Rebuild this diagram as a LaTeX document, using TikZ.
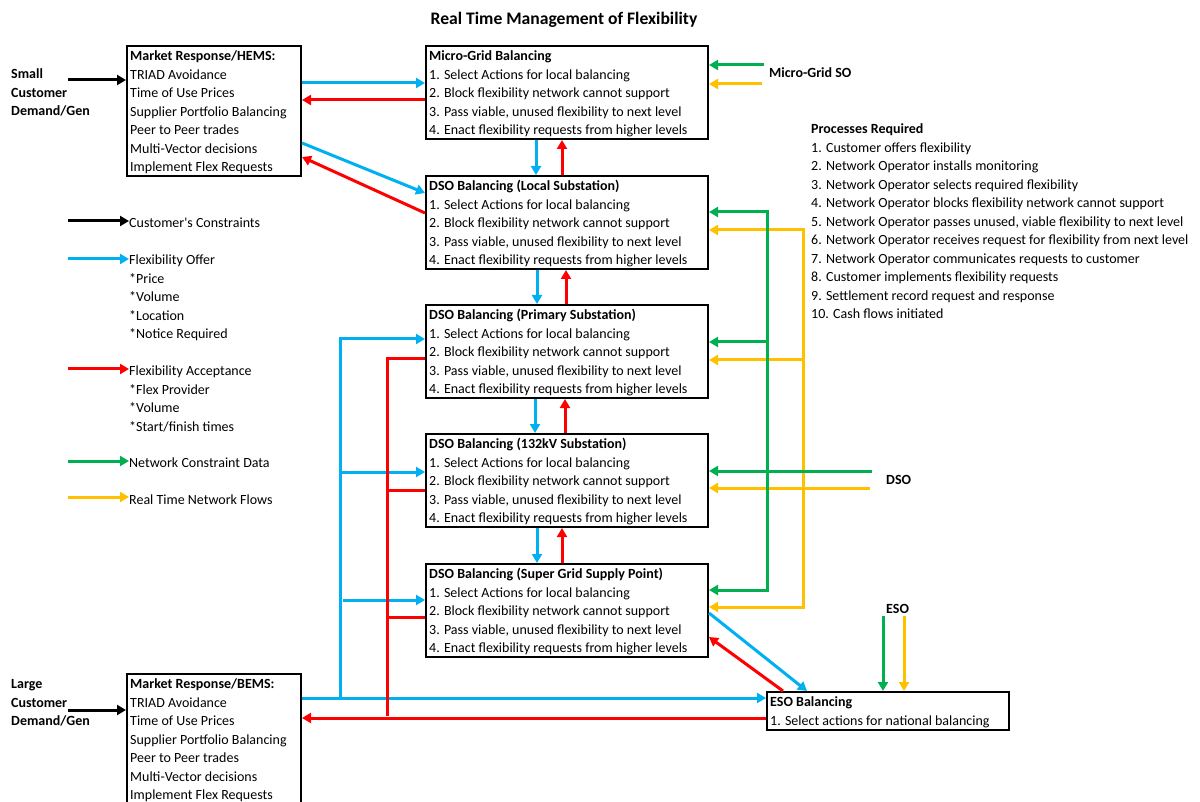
\documentclass[tikz,border=0pt]{standalone}
\usepackage{fontspec}
\setmainfont{Carlito}
\usetikzlibrary{arrows.meta}

\definecolor{flexblue}{RGB}{0,176,240}
\definecolor{flexred}{RGB}{255,0,0}
\definecolor{netgreen}{RGB}{0,176,80}
\definecolor{flowyellow}{RGB}{255,192,0}

\newcommand\diagfont{\fontsize{14}{18.5}\selectfont}
\newcommand\topstrut{\rule{0pt}{15.5pt}}

\tikzset{
  box/.style={draw=black, line width=2pt, anchor=north west, inner sep=0pt},
  txt/.style={anchor=north west, align=left, inner sep=0pt, font=\diagfont},
  lbl/.style={txt, font=\diagfont\bfseries},
  tip/.style={-{Triangle[length=9pt,width=10pt]}},
  both tips/.style={{Triangle[length=9pt,width=10pt]}-{Triangle[length=9pt,width=10pt]}},
  blk/.style={line width=3pt, black, tip},
  blu/.style={line width=3pt, flexblue},
  rd/.style={line width=3pt, flexred},
  grn/.style={line width=3pt, netgreen},
  ylw/.style={line width=3pt, flowyellow},
}

\begin{document}
\begin{tikzpicture}[x=1pt,y=-1pt]
\useasboundingbox (0,0) rectangle (1200,802);

% title
\node[font=\fontsize{17.6}{20}\selectfont\bfseries, anchor=base, inner sep=0pt] (title) at (564,25) {Real Time Management of Flexibility};

% ---------- boxes ----------
\node[box, minimum width=174pt, minimum height=130pt] (hems) at (126,45) {};
\node[txt] (hemsT) at ([xshift=4pt]hems.north west) {\topstrut\textbf{Market Response/HEMS:}\\TRIAD Avoidance\\Time of Use Prices\\Supplier Portfolio Balancing\\Peer to Peer trades\\Multi-Vector decisions\\Implement Flex Requests};

\node[box, minimum width=174pt, minimum height=131pt] (bems) at (126,673) {};
\node[txt] (bemsT) at ([xshift=4pt]bems.north west) {\topstrut\textbf{Market Response/BEMS:}\\TRIAD Avoidance\\Time of Use Prices\\Supplier Portfolio Balancing\\Peer to Peer trades\\Multi-Vector decisions\\Implement Flex Requests};

\node[box, minimum width=282pt, minimum height=93pt] (mg) at (425,45) {};
\node[txt] (mgT) at ([xshift=4pt]mg.north west) {\topstrut\textbf{Micro-Grid Balancing}\\1. Select Actions for local balancing\\2. Block flexibility network cannot support\\3. Pass viable, unused flexibility to next level\\4. Enact flexibility requests from higher levels};

\node[box, minimum width=282pt, minimum height=93pt] (loc) at (425,175) {};
\node[txt] (locT) at ([xshift=4pt]loc.north west) {\topstrut\textbf{DSO Balancing (Local Substation)}\\1. Select Actions for local balancing\\2. Block flexibility network cannot support\\3. Pass viable, unused flexibility to next level\\4. Enact flexibility requests from higher levels};

\node[box, minimum width=282pt, minimum height=93pt] (pri) at (425,304) {};
\node[txt] (priT) at ([xshift=4pt]pri.north west) {\topstrut\textbf{DSO Balancing (Primary Substation)}\\1. Select Actions for local balancing\\2. Block flexibility network cannot support\\3. Pass viable, unused flexibility to next level\\4. Enact flexibility requests from higher levels};

\node[box, minimum width=282pt, minimum height=93pt] (kv) at (425,433) {};
\node[txt] (kvT) at ([xshift=4pt]kv.north west) {\topstrut\textbf{DSO Balancing (132kV Substation)}\\1. Select Actions for local balancing\\2. Block flexibility network cannot support\\3. Pass viable, unused flexibility to next level\\4. Enact flexibility requests from higher levels};

\node[box, minimum width=282pt, minimum height=93pt] (sgsp) at (425,563) {};
\node[txt] (sgspT) at ([xshift=4pt]sgsp.north west) {\topstrut\textbf{DSO Balancing (Super Grid Supply Point)}\\1. Select Actions for local balancing\\2. Block flexibility network cannot support\\3. Pass viable, unused flexibility to next level\\4. Enact flexibility requests from higher levels};

\node[box, minimum width=242pt, minimum height=38pt] (eso) at (766,691) {};
\node[txt] (esoT) at ([xshift=4pt]eso.north west) {\topstrut\textbf{ESO Balancing}\\1. Select actions for national balancing};

% ---------- side labels ----------
\node[lbl] (small) at (11,63) {\topstrut Small\\Customer\\Demand/Gen};
\node[lbl] (large) at (11,673) {\topstrut Large\\Customer\\Demand/Gen};
\node[lbl] (mgso) at (769,62) {\topstrut Micro-Grid SO};
\node[lbl] (dso) at (886,469) {\topstrut DSO};
\node[lbl] (esoL) at (886,598) {\topstrut ESO};

\node[txt] (proc) at (811,118) {\topstrut\textbf{Processes Required}\\1. Customer offers flexibility\\2. Network Operator installs monitoring\\3. Network Operator selects required flexibility\\4. Network Operator blocks flexibility network cannot support\\5. Network Operator passes unused, viable flexibility to next level\\6. Network Operator receives request for flexibility from next level\\7. Network Operator communicates requests to customer\\8. Customer implements flexibility requests\\9. Settlement record request and response\\10. Cash flows initiated};

% ---------- legend ----------
\node[txt] (lgK) at (129,212) {\topstrut Customer\textquotesingle s Constraints};
\node[txt] (lgB) at (129,249) {\topstrut Flexibility Offer\\*Price\\*Volume\\*Location\\*Notice Required};
\node[txt] (lgR) at (129,360) {\topstrut Flexibility Acceptance\\*Flex Provider\\*Volume\\*Start/finish times};
\node[txt] (lgG) at (129,452) {\topstrut Network Constraint Data};
\node[txt] (lgY) at (129,489) {\topstrut Real Time Network Flows};

\coordinate (lgKs) at (68,221);
\coordinate (lgBs) at (68,259);
\coordinate (lgRs) at (68,369);
\coordinate (lgGs) at (68,461);
\coordinate (lgYs) at (68,497);
\draw[blk] (lgKs) -- (lgK.west |- lgKs);
\draw[blu, tip] (lgBs) -- (lgB.west |- lgBs);
\draw[rd, tip] (lgRs) -- (lgR.west |- lgRs);
\draw[grn, tip] (lgGs) -- (lgG.west |- lgGs);
\draw[ylw, tip] (lgYs) -- (lgY.west |- lgYs);

% ---------- customer constraints ----------
\coordinate (smallA) at (68,80);
\coordinate (largeA) at (68,710);
\draw[blk] (smallA) -- (hems.west |- smallA);
\draw[blk] (largeA) -- (bems.west |- largeA);

% ---------- HEMS exchanges ----------
\draw[blu, tip] (hems.east |- 0,83) -- (mg.west |- 0,83);
\draw[rd, tip] (mg.west |- 0,100) -- (hems.east |- 0,100);
\draw[blu, tip] (hems.east |- 0,143) -- (loc.west |- 0,193);
\draw[rd, tip] (loc.west |- 0,213) -- (hems.east |- 0,157);

% ---------- vertical exchanges between levels ----------
\draw[blu, tip] (536,0 |- mg.south) -- (536,0 |- loc.north);
\draw[rd, tip] (562,0 |- loc.north) -- (562,0 |- mg.south);
\draw[blu, tip] (537,0 |- loc.south) -- (537,0 |- pri.north);
\draw[rd, tip] (566,0 |- pri.north) -- (566,0 |- loc.south);
\draw[blu, tip] (535,0 |- pri.south) -- (535,0 |- kv.north);
\draw[rd, tip] (565,0 |- kv.north) -- (565,0 |- pri.south);
\draw[blu, tip] (537,0 |- kv.south) -- (537,0 |- sgsp.north);
\draw[rd, tip] (562,0 |- sgsp.north) -- (562,0 |- kv.south);

% ---------- micro-grid system operator ----------
\coordinate (mgG) at (764,65);
\coordinate (mgY) at (762,84);
\draw[grn, tip] (mgG) -- (mg.east |- mgG);
\draw[ylw, tip] (mgY) -- (mg.east |- mgY);

% ---------- DSO network data buses ----------
\coordinate (yTop) at (803,230);
\coordinate (yBot) at (803,607);
\coordinate (yPri) at (803,360);
\coordinate (yDso) at (870,488);
\draw[ylw, both tips] (loc.east |- yTop) -- (yTop) -- (yBot) -- (sgsp.east |- yBot);
\draw[ylw, tip] (yPri) -- (pri.east |- yPri);
\draw[ylw, tip] (yDso) -- (kv.east |- yDso);

\coordinate (gTop) at (767,212);
\coordinate (gBot) at (767,590);
\coordinate (gPri) at (767,342);
\coordinate (gDso) at (872,471);
\draw[grn, both tips] (loc.east |- gTop) -- (gTop) -- (gBot) -- (sgsp.east |- gBot);
\draw[grn, tip] (gPri) -- (pri.east |- gPri);
\draw[grn, tip] (gDso) -- (kv.east |- gDso);

% ---------- ESO ----------
\coordinate (esoG) at (883,616);
\coordinate (esoY) at (904,616);
\draw[grn, tip] (esoG) -- (esoG |- eso.north);
\draw[ylw, tip] (esoY) -- (esoY |- eso.north);
\draw[blu, tip] (sgsp.east |- 0,613) -- (807,0 |- eso.north);
\draw[rd, tip] (783,0 |- eso.north) -- (sgsp.east |- 0,637);

% ---------- BEMS offer bus (blue) ----------
\coordinate (bTop) at (340,339);
\coordinate (bBot) at (340,698);
\coordinate (bKv) at (340,472);
\coordinate (bSg) at (343,600);
\draw[blu, tip] (bBot) -- (bTop) -- (pri.west |- bTop);
\draw[blu, tip] (bKv) -- (kv.west |- bKv);
\draw[blu, tip] (bSg) -- (sgsp.west |- bSg);
\draw[blu, tip] (bems.east |- bBot) -- (eso.west |- bBot);

% ---------- BEMS acceptance bus (red) ----------
\coordinate (rTop) at (387,359);
\coordinate (rBot) at (387,716);
\coordinate (rKv) at (387,490);
\coordinate (rSg) at (387,617);
\coordinate (rLow) at (387,718);
\draw[rd] (pri.west |- rTop) -- (rTop) -- (rBot);
\draw[rd] (kv.west |- rKv) -- (rKv);
\draw[rd] (sgsp.west |- rSg) -- (rSg);
\draw[rd, tip] (eso.west |- rLow) -- (bems.east |- rLow);

\end{tikzpicture}
\end{document}
